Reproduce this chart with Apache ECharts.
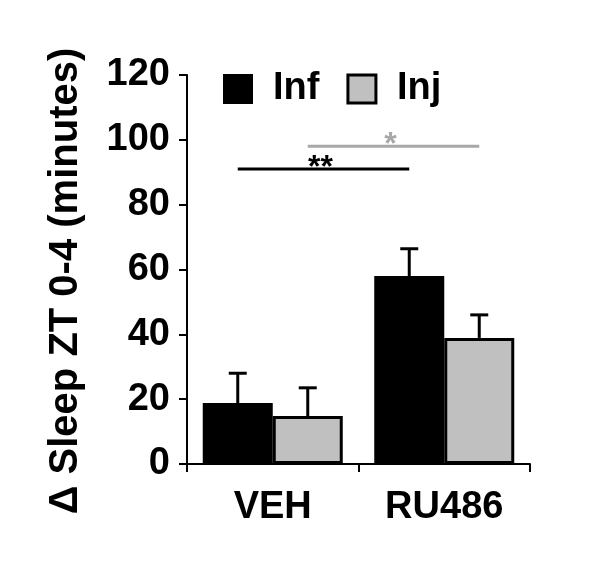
<!DOCTYPE html>
<html>
<head>
<meta charset="utf-8">
<script src="https://cdn.jsdelivr.net/npm/echarts@6/dist/echarts.min.js"></script>
<style>html,body{margin:0;padding:0;background:#fff}#c{width:600px;height:576px}</style>
</head>
<body>
<div id="c"></div>
<script>
var categories = ['VEH', 'RU486'];
var seriesNames = ['Inf', 'Inj'];
var infMean = [18.8, 58];
var infErr = [9.2, 8.4];
var injMean = [14.8, 38.9];
var injErr = [8.7, 7.1];
var yTicks = [0, 20, 40, 60, 80, 100, 120];
// significance bars: [fromCategory, toCategory, yValue, seriesIndex]
var sigFrom = [0, 0];
var sigTo = [1, 1];
var sigY = [91, 98];
var sigSeries = [0, 1];
var sigLabels = ['**', '*'];

var colors = ['#000000', '#c0c0c0'];
var sigColors = ['#000000', '#a8a8a8'];
var FONT = 'Liberation Sans, Arial, sans-serif';
var BAR_W = 70;

var chart = echarts.init(document.getElementById('c'));

function errData(means, errs) {
  return means.map(function (m, i) { return [i, m, errs[i]]; });
}

function errSeries(name, means, errs, offsetSign) {
  return {
    type: 'custom',
    name: name + ' err',
    z: 1,
    data: errData(means, errs),
    encode: { x: 0, y: 1 },
    renderItem: function (params, api) {
      var c = api.value(0), m = api.value(1), e = api.value(2);
      var p0 = api.coord([c, m]);
      var p1 = api.coord([c, m + e]);
      var x = p0[0] + offsetSign * BAR_W / 2;
      return {
        type: 'group',
        children: [
          { type: 'line', shape: { x1: x, y1: p0[1], x2: x, y2: p1[1] }, style: { stroke: '#000', lineWidth: 3 } },
          { type: 'line', shape: { x1: x - 9, y1: p1[1], x2: x + 9, y2: p1[1] }, style: { stroke: '#000', lineWidth: 3 } }
        ]
      };
    }
  };
}

var sigData = sigY.map(function (y, i) { return [sigFrom[i], sigTo[i], y, sigSeries[i], i]; });

var option = {
  animation: false,
  backgroundColor: '#fff',
  grid: { left: 187, right: 70, top: 75, bottom: 112 },
  legend: {
    left: 223, top: 70, padding: 0,
    itemWidth: 28, itemHeight: 28, itemGap: 27,
    textStyle: { fontFamily: FONT, fontWeight: 'bold', fontSize: 38, lineHeight: 28, color: '#000', padding: [0, 0, 0, 16] },
    data: [
      { name: 'Inf', icon: 'rect', itemStyle: { color: '#000', borderColor: '#000', borderWidth: 2 } },
      { name: 'Inj', icon: 'rect', itemStyle: { color: '#c0c0c0', borderColor: '#000', borderWidth: 3 } }
    ]
  },
  xAxis: {
    type: 'category',
    data: categories,
    axisLine: { lineStyle: { color: '#000', width: 2 } },
    axisTick: { show: true, length: 8, lineStyle: { color: '#000', width: 2 } },
    axisLabel: { fontFamily: FONT, fontWeight: 'bold', fontSize: 38, color: '#000', margin: 25 }
  },
  yAxis: {
    type: 'value',
    min: yTicks[0], max: yTicks[yTicks.length - 1], interval: 20,
    axisLine: { show: true, lineStyle: { color: '#000', width: 2 } },
    axisTick: { show: true, length: 8, lineStyle: { color: '#000', width: 2 } },
    splitLine: { show: false },
    axisLabel: { fontFamily: FONT, fontWeight: 'bold', fontSize: 38, color: '#000', margin: 17 }
  },
  graphic: [{
    type: 'text',
    x: 66, y: 281,
    rotation: Math.PI / 2,
    style: {
      text: 'Δ Sleep ZT 0-4 (minutes)',
      font: 'bold 40px ' + FONT,
      fill: '#000',
      textAlign: 'center',
      textVerticalAlign: 'middle'
    }
  }],
  series: [
    {
      type: 'bar', name: 'Inf', data: infMean, barWidth: BAR_W, barGap: '0%',
      itemStyle: { color: colors[0], borderColor: '#000', borderWidth: 2 }, z: 2
    },
    {
      type: 'bar', name: 'Inj', data: injMean, barWidth: BAR_W, barGap: '0%',
      itemStyle: { color: colors[1], borderColor: '#000', borderWidth: 3 }, z: 2
    },
    errSeries('Inf', infMean, infErr, -1),
    errSeries('Inj', injMean, injErr, 1),
    {
      type: 'custom',
      name: 'sig',
      data: sigData,
      encode: { x: [0, 1], y: 2 },
      renderItem: function (params, api) {
        var a = api.value(0), b = api.value(1), y = api.value(2), s = api.value(3), idx = api.value(4);
        var off = (s === 0 ? -1 : 1) * BAR_W / 2;
        var pa = api.coord([a, y]);
        var pb = api.coord([b, y]);
        var x1 = pa[0] + off, x2 = pb[0] + off;
        var col = sigColors[s];
        return {
          type: 'group',
          children: [
            { type: 'line', shape: { x1: x1, y1: pa[1], x2: x2, y2: pa[1] }, style: { stroke: col, lineWidth: 3 } },
            { type: 'text', x: (x1 + x2) / 2 - 3, y: pa[1] - 1,
              style: { text: sigLabels[idx], fill: col, font: 'bold 32px ' + FONT, textAlign: 'center', textVerticalAlign: 'middle' } }
          ]
        };
      }
    }
  ]
};
chart.setOption(option);
</script>
</body>
</html>
